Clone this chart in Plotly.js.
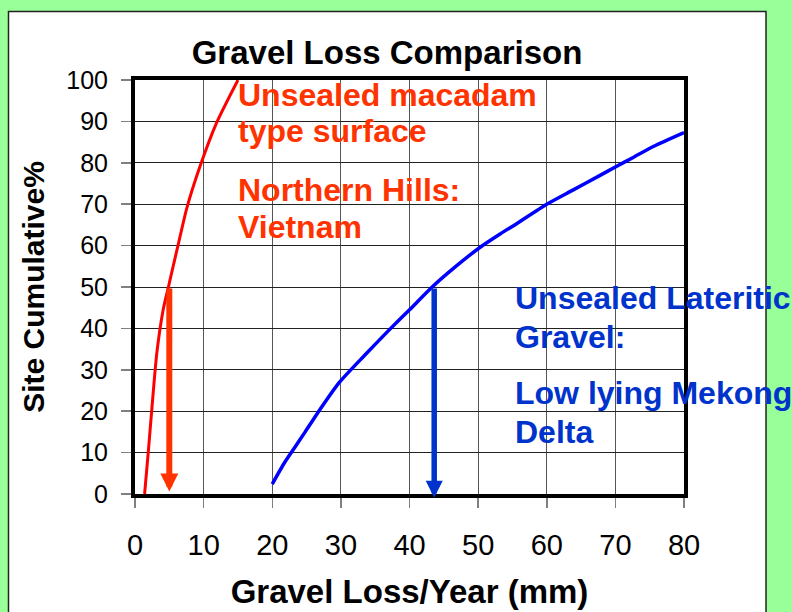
<!DOCTYPE html>
<html>
<head>
<meta charset="utf-8">
<script src="https://cdn.plot.ly/plotly-3.0.1.min.js"></script>
<style>
  html, body { margin: 0; padding: 0; background: #99ff99; }
  #chart { width: 792px; height: 612px; }
</style>
</head>
<body>
<div id="chart"></div>
<script>
// Unsealed macadam type surface (Northern Hills, Vietnam)
var redX = [1.4, 1.95, 2.43, 3.17, 4.14, 4.87, 5.35, 6.33, 7.54, 9.49, 11.9, 15.0];
var redY = [0, 10.4, 20.1, 33.9, 44.8, 50, 53.5, 60.5, 69, 79.2, 89.7, 100];
// Unsealed lateritic gravel (Low lying Mekong Delta)
var blueX = [20, 21.8, 23.3, 24.8, 26.3, 29.8, 33.4, 36.9, 40, 43.3, 46.4, 50.3, 53.2, 55.6, 60, 63.8, 67.7, 70, 72.6, 75.6, 80];
var blueY = [2.4, 7.6, 11.3, 15.0, 18.8, 27.0, 33.4, 39.4, 44.5, 50, 54.5, 59.6, 62.8, 65.3, 70, 73.4, 76.9, 79.0, 81.3, 84.0, 87.3];
// 50% markers (median gravel loss)
var redMedianX = 5;
var blueMedianX = 43.6;
var medianY = 50;
var xTicks = [0, 10, 20, 30, 40, 50, 60, 70, 80];
var yTicks = [0, 10, 20, 30, 40, 50, 60, 70, 80, 90, 100];

var titleText = 'Gravel Loss Comparison';
var xTitle = 'Gravel Loss/Year (mm)';
var yTitle = 'Site Cumulative%';
var redLines = ['Unsealed macadam', 'type surface', 'Northern Hills:', 'Vietnam'];
var blueLines = ['Unsealed Lateritic', 'Gravel:', 'Low lying Mekong', 'Delta'];

var FONT = 'Liberation Sans, Arial, Helvetica, sans-serif';
var RED_TXT = '#ff3300';
var BLUE_TXT = '#0033cc';

var W = 792, H = 612;
var mL = 135, mR = W - 684, mT = 80, mB = H - 494;
var pw = W - mL - mR, ph = H - mT - mB;
function px2x(p) { return (p - mL) / pw; }
function py2y(p) { return (H - mB - p) / ph; }

var traces = [
  { x: redX, y: redY, type: 'scatter', mode: 'lines', line: { color: '#ff0000', width: 3, shape: 'spline', smoothing: 0.6 }, hoverinfo: 'x+y', showlegend: false },
  { x: blueX, y: blueY, type: 'scatter', mode: 'lines', line: { color: '#0000ff', width: 3.5, shape: 'spline', smoothing: 0.6 }, hoverinfo: 'x+y', showlegend: false }
];

var labelFont = function (c) { return { family: FONT, size: 32, color: c, weight: 'bold' }; };

var redPos = [95, 131, 190, 227];
var bluePos = [298, 337, 393, 432];

var annotations = [
  { xref: 'x', yref: 'y', x: redMedianX, y: 0.6, axref: 'x', ayref: 'y', ax: redMedianX, ay: medianY,
    showarrow: true, arrowhead: 2, arrowsize: 0.6, arrowwidth: 6, arrowcolor: RED_TXT, text: '' },
  { xref: 'x', yref: 'y', x: blueMedianX, y: -0.9, axref: 'x', ayref: 'y', ax: blueMedianX, ay: medianY,
    showarrow: true, arrowhead: 2, arrowsize: 0.62, arrowwidth: 5.5, arrowcolor: BLUE_TXT, text: '' }
];
redLines.forEach(function (t, i) {
  annotations.push({ xref: 'paper', yref: 'paper', x: px2x(236), y: py2y(redPos[i]), xanchor: 'left', yanchor: 'middle',
    showarrow: false, text: '<b>' + t + '</b>', font: labelFont(RED_TXT) });
});
blueLines.forEach(function (t, i) {
  annotations.push({ xref: 'paper', yref: 'paper', x: px2x(513), y: py2y(bluePos[i]), xanchor: 'left', yanchor: 'middle',
    showarrow: false, text: '<b>' + t + '</b>', font: labelFont(BLUE_TXT) });
});

var layout = {
  width: W, height: H,
  margin: { l: mL, r: mR, t: mT, b: mB, pad: 0 },
  paper_bgcolor: '#99ff99',
  plot_bgcolor: 'rgba(0,0,0,0)',
  showlegend: false,
  font: { family: FONT, color: '#000000' },
  title: {
    text: '<b>' + titleText + '</b>',
    font: { family: FONT, size: 33, color: '#000000' },
    xref: 'container', yref: 'container',
    x: 387 / W, xanchor: 'center',
    y: 1 - 52 / H, yanchor: 'middle'
  },
  xaxis: {
    range: [0, 80], tickvals: xTicks, ticktext: xTicks.map(String),
    showgrid: true, gridcolor: '#555555', gridwidth: 1,
    zeroline: false,
    showline: true, linecolor: '#000000', linewidth: 4, mirror: true,
    ticks: 'outside', ticklen: 10, tickcolor: '#808080', tickwidth: 1.5,
    ticklabelstandoff: 12,
    tickfont: { family: FONT, size: 29, color: '#000000' },
    title: { text: '<b>' + xTitle + '</b>', font: { family: FONT, size: 33, color: '#000000' }, standoff: 21 },
    fixedrange: true
  },
  yaxis: {
    range: [0, 100], tickvals: yTicks, ticktext: yTicks.map(String),
    showgrid: true, gridcolor: '#222222', gridwidth: 1,
    zeroline: false,
    showline: true, linecolor: '#000000', linewidth: 4, mirror: true,
    ticks: 'outside', ticklen: 10, tickcolor: '#808080', tickwidth: 1.5,
    ticklabelstandoff: 8,
    tickfont: { family: FONT, size: 25, color: '#000000' },
    title: { text: '<b>' + yTitle + '</b>', font: { family: FONT, size: 30, color: '#000000' }, standoff: 14 },
    fixedrange: true
  },
  shapes: [
    { type: 'rect', layer: 'below', xref: 'paper', yref: 'paper',
      x0: px2x(8.5), x1: px2x(766), y0: py2y(640), y1: py2y(11.5),
      fillcolor: '#ffffff', line: { color: '#222222', width: 1.5 } }
  ],
  annotations: annotations
};

Plotly.newPlot('chart', traces, layout, { displayModeBar: false, staticPlot: true });
</script>
</body>
</html>
